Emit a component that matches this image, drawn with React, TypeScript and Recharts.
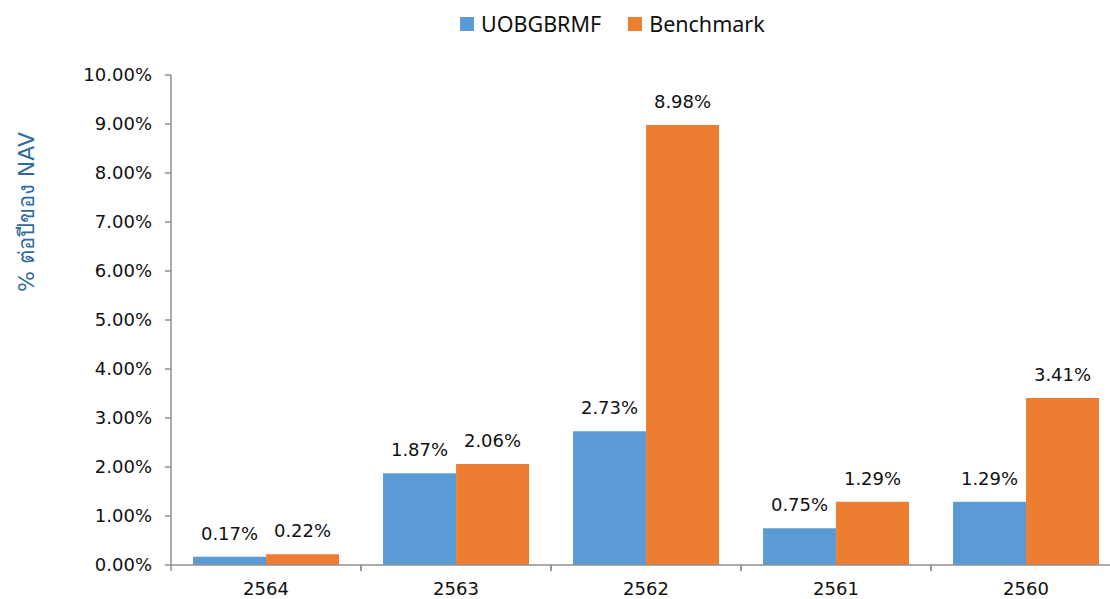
import { BarChart, Bar, XAxis, YAxis, Legend, LabelList, Label } from "recharts";

const years = ["2564", "2563", "2562", "2561", "2560"];
const fundReturns = [0.17, 1.87, 2.73, 0.75, 1.29];
const benchmarkReturns = [0.22, 2.06, 8.98, 1.29, 3.41];
const yTicks = [0, 1, 2, 3, 4, 5, 6, 7, 8, 9, 10];

const series = [
  { key: "fund", name: "UOBGBRMF", color: "#5B9BD5" },
  { key: "bench", name: "Benchmark", color: "#ED7D31" },
];

const data = years.map((year, i) => ({
  year,
  fund: fundReturns[i],
  bench: benchmarkReturns[i],
}));

const FONT = "'DejaVu Sans', Verdana, sans-serif";
const AXIS_COLOR = "#8f8f8f";
const CHART_W = 1125;
// legend (~29px) and x axis (30px) are added on top of these by recharts
const MARGIN = { top: 46, right: 4, bottom: 4, left: 0 };
const Y_AXIS_W = 171;
const HALF_BAND = (CHART_W - MARGIN.right - Y_AXIS_W) / years.length / 2;

const pct = (v: number) => `${Number(v).toFixed(2)}%`;

function YearTick(props: any) {
  const { x, y, payload } = props;
  const axisY = y - 8;
  return (
    <g>
      <line x1={x - HALF_BAND} x2={x - HALF_BAND} y1={axisY} y2={axisY + 6} stroke={AXIS_COLOR} strokeWidth={1.5} />
      <line x1={x + HALF_BAND} x2={x + HALF_BAND} y1={axisY} y2={axisY + 6} stroke={AXIS_COLOR} strokeWidth={1.5} />
      <text x={x} y={axisY + 30} textAnchor="middle" fontSize={18} fontFamily={FONT} fill="#111">
        {payload.value}
      </text>
    </g>
  );
}

function LegendContent() {
  return (
    <div style={{ display: "flex", alignItems: "center", gap: 27, fontFamily: "'Noto Sans', sans-serif", fontSize: 21.5, color: "#111" }}>
      {series.map((s) => (
        <div key={s.key} style={{ display: "flex", alignItems: "center", gap: 7 }}>
          <span style={{ width: 14, height: 14, background: s.color, display: "inline-block" }} />
          <span>{s.name}</span>
        </div>
      ))}
    </div>
  );
}

function AxisTitle() {
  const cx = 26;
  const cy = 212;
  return (
    <text
      x={cx}
      y={cy}
      transform={`rotate(-90, ${cx}, ${cy})`}
      textAnchor="middle"
      dominantBaseline="central"
      fontSize={22}
      fontFamily={FONT}
      fill="#2F6A9E"
    >
      % ต่อปีของ NAV
    </text>
  );
}

export default function App() {
  return (
    <div style={{ position: "absolute", left: 0, top: 0, width: 1110, height: 599, overflow: "hidden", background: "#fff" }}>
      <BarChart
        width={CHART_W}
        height={599}
        data={data}
        margin={MARGIN}
        barCategoryGap="11.6%"
        barGap={0}
      >
        <XAxis
          dataKey="year"
          height={30}
          axisLine={{ stroke: AXIS_COLOR, strokeWidth: 1.5 }}
          tickLine={false}
          tick={<YearTick />}
          interval={0}
        />
        <YAxis
          width={Y_AXIS_W}
          domain={[0, 10]}
          ticks={yTicks}
          tickFormatter={pct}
          axisLine={{ stroke: AXIS_COLOR, strokeWidth: 1.5 }}
          tickLine={{ stroke: AXIS_COLOR, strokeWidth: 1.5 }}
          tickSize={6}
          tickMargin={13}
          tick={{ fontSize: 18, fontFamily: FONT, fill: "#111" }}
        >
          <Label content={<AxisTitle />} />
        </YAxis>
        <Legend
          verticalAlign="top"
          content={<LegendContent />}
          wrapperStyle={{ top: 9, left: 460, width: "auto" }}
        />
        {series.map((s) => (
          <Bar key={s.key} dataKey={s.key} name={s.name} fill={s.color} isAnimationActive={false}>
            <LabelList
              dataKey={s.key}
              position="top"
              offset={17}
              formatter={pct}
              style={{ fontSize: 18, fontFamily: FONT, fill: "#111" }}
            />
          </Bar>
        ))}
      </BarChart>
    </div>
  );
}
